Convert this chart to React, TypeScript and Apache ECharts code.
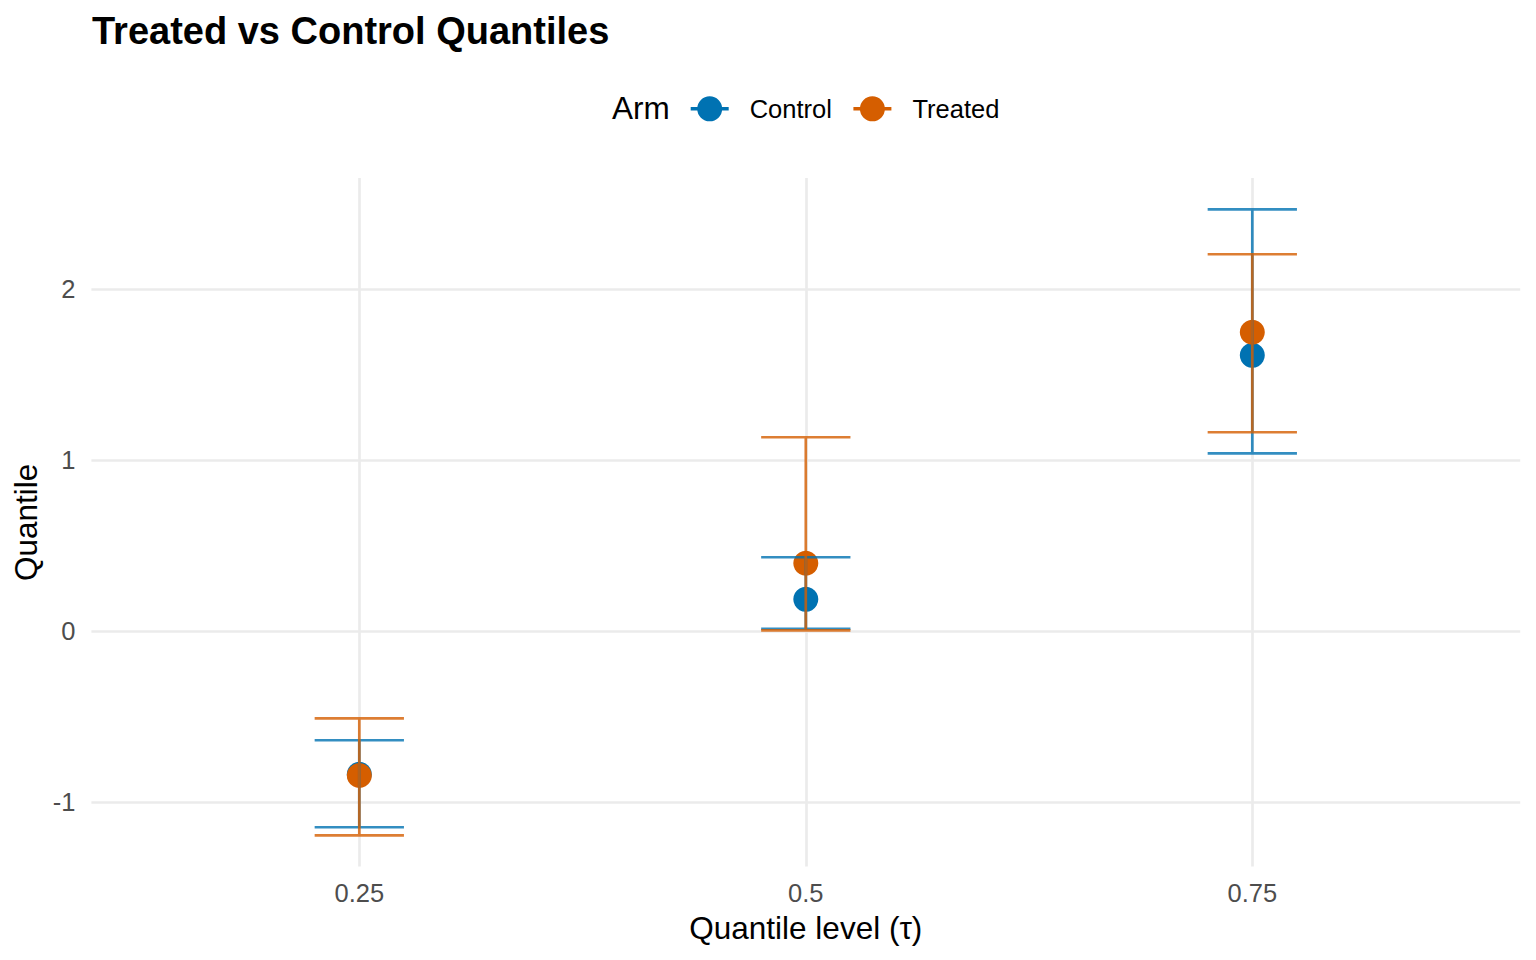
import React, { useEffect, useRef } from "react";
import * as echarts from "echarts";

// Quantile levels (categories) and their positions on the x scale
const tauLabels = ["0.25", "0.5", "0.75"];
const tauPositions = [1, 2, 3];

// Control arm
const controlEstimate = [-0.838, 0.185, 1.612];
const controlLower = [-1.148, 0.013, 1.039];
const controlUpper = [-0.639, 0.431, 2.466];

// Treated arm
const treatedEstimate = [-0.845, 0.396, 1.747];
const treatedLower = [-1.195, 0.004, 1.162];
const treatedUpper = [-0.511, 1.133, 2.203];

// Tick values
const yTicks = [-1, 0, 1, 2];

const FONT = "'Liberation Sans', Arial, Helvetica, sans-serif";
const BLUE = "#0072B2";
const ORANGE = "#D55E00";
const BLUE_A = "rgba(0,114,178,0.8)";
const ORANGE_A = "rgba(213,94,0,0.8)";

const LEGEND_ICON =
  "path://M0,10.75h7v3.5h-7z M31,10.75h7v3.5h-7z M6.5,12.5a12.5,12.5 0 1,1 25,0a12.5,12.5 0 1,1 -25,0z";

function errorSeries(name: string, lower: number[], upper: number[], color: string) {
  return {
    type: "custom",
    name,
    z: 3,
    data: tauPositions.map((p, i) => [p, lower[i], upper[i]]),
    encode: { x: 0, y: [1, 2] },
    renderItem: (_params: any, api: any) => {
      const x = api.value(0);
      const lo = api.coord([x, api.value(1)]);
      const hi = api.coord([x, api.value(2)]);
      const half = api.size([0.2, 0])[0] / 2;
      const d =
        `M${hi[0] - half},${hi[1]}L${hi[0] + half},${hi[1]}` +
        `M${hi[0]},${hi[1]}L${lo[0]},${lo[1]}` +
        `M${lo[0] - half},${lo[1]}L${lo[0] + half},${lo[1]}`;
      return {
        type: "path",
        shape: { pathData: d },
        style: { stroke: color, lineWidth: 2.7, fill: null, lineCap: "butt" },
      };
    },
  };
}

export default function App() {
  const ref = useRef<HTMLDivElement>(null);

  useEffect(() => {
    document.body.style.margin = "0";
    if (!ref.current) return;
    const chart = echarts.init(ref.current, undefined, { renderer: "svg" });

    const yMin = -1.378;
    const yMax = 2.649;

    chart.setOption({
      animation: false,
      backgroundColor: "#FFFFFF",
      textStyle: { fontFamily: FONT },
      title: {
        text: "Treated vs Control Quantiles",
        left: 92,
        top: 11.5,
        padding: 0,
        textStyle: { fontFamily: FONT, fontSize: 38, fontWeight: "bold", color: "#000000" },
      },
      legend: {
        data: [{ name: "Control" }, { name: "Treated" }],
        left: 690.7,
        top: 95.8,
        padding: 0,
        icon: LEGEND_ICON,
        itemWidth: 38,
        itemHeight: 25,
        itemGap: 21.5,
        selectedMode: false,
        textStyle: {
          fontFamily: FONT,
          fontSize: 25.5,
          color: "#000000",
          padding: [0, 0, 0, 16],
        },
      },
      graphic: [
        {
          type: "text",
          left: 612,
          top: 92,
          style: { text: "Arm", font: `31.5px ${FONT}`, fill: "#000000" },
        },
      ],
      grid: { left: 91.4, right: 15.8, top: 178, bottom: 93.4, containLabel: false },
      xAxis: {
        type: "value",
        min: 0.4,
        max: 3.6,
        name: "Quantile level (τ)",
        nameLocation: "middle",
        nameGap: 45,
        nameTextStyle: { fontFamily: FONT, fontSize: 31.5, color: "#000000" },
        axisLine: { show: false },
        axisTick: { show: false, customValues: tauPositions },
        axisLabel: {
          customValues: tauPositions,
          formatter: (v: number) => tauLabels[tauPositions.indexOf(Math.round(v))] ?? "",
          fontFamily: FONT,
          fontSize: 25.5,
          color: "#4D4D4D",
          margin: 13.5,
        },
        splitLine: { show: true, lineStyle: { color: "#EBEBEB", width: 2.7 } },
      },
      yAxis: {
        type: "value",
        min: yMin,
        max: yMax,
        name: "Quantile",
        nameLocation: "middle",
        nameGap: 47,
        nameTextStyle: { fontFamily: FONT, fontSize: 31.5, color: "#000000" },
        axisLine: { show: false },
        axisTick: { show: false, customValues: yTicks },
        axisLabel: {
          customValues: yTicks,
          formatter: (v: number) => String(v),
          fontFamily: FONT,
          fontSize: 25.5,
          color: "#4D4D4D",
          margin: 16,
        },
        splitLine: { show: true, lineStyle: { color: "#EBEBEB", width: 2.7 } },
      },
      series: [
        {
          type: "scatter",
          name: "Control",
          z: 2,
          symbol: "circle",
          symbolSize: 25,
          itemStyle: { color: BLUE, opacity: 1 },
          data: tauPositions.map((p, i) => [p, controlEstimate[i]]),
        },
        {
          type: "scatter",
          name: "Treated",
          z: 2,
          symbol: "circle",
          symbolSize: 25,
          itemStyle: { color: ORANGE, opacity: 1 },
          data: tauPositions.map((p, i) => [p, treatedEstimate[i]]),
        },
        errorSeries("Control CI", controlLower, controlUpper, BLUE_A),
        errorSeries("Treated CI", treatedLower, treatedUpper, ORANGE_A),
      ],
    });

    return () => chart.dispose();
  }, []);

  return <div ref={ref} style={{ width: 1536, height: 960 }} />;
}
